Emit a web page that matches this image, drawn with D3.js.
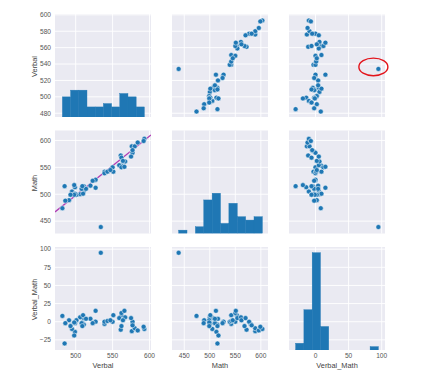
<!DOCTYPE html>
<html lang="en">
<head>
<meta charset="UTF-8">
<title>SAT scores pair plot</title>
<style>
  body { margin: 0; background: #fff; }
  text { font-family: "Liberation Sans", Arial, sans-serif; }
</style>
</head>
<body>
<div id="chart"></div>
<script src="https://d3js.org/d3.v7.min.js"></script>
<script>
// SAT scores by state
const states = ["CT","NJ","MA","NY","NH","RI","PA","VT","ME","VA","DE","MD","NC","GA","IN","SC","DC","OR","FL","WA","TX","HI","AK","CA","AZ","NV","CO","OH","MT","WV","ID","TN","NM","IL","KY","WY","MI","MN","KS","AL","NE","OK","MO","LA","WI","AR","UT","IA","SD","ND","MS"];
const verbal = [509,499,511,495,520,501,500,511,506,510,501,508,493,491,499,486,482,526,498,527,493,485,514,498,523,509,539,534,539,527,543,562,551,576,550,547,561,580,577,559,562,567,577,564,584,562,575,593,577,592,566];
const math = [510,513,515,505,516,499,499,506,500,501,499,510,499,489,501,488,474,526,499,527,499,515,510,517,525,515,542,439,539,512,542,553,542,589,550,545,572,589,580,554,568,561,577,562,596,550,570,603,582,599,551];
const verbalMath = [-1,-14,-4,-10,4,2,1,5,6,9,2,-2,-6,2,-2,-2,8,0,-1,0,-6,-30,4,-19,-2,-6,-3,95,0,15,1,9,9,-13,0,2,-11,-9,-3,5,-6,6,0,2,-12,12,5,-10,-5,-7,15];

const varNames = ["Verbal", "Math", "Verbal_Math"];
const xTickValues = [[500, 550, 600], [450, 500, 550, 600], [0, 50, 100]];
const yTickValues = [[480, 500, 520, 540, 560, 580, 600], [450, 500, 550, 600], [-25, 0, 25, 50, 75, 100]];
const fitSlope = 1.1, fitIntercept = -52;   // line drawn over Verbal vs Math
const outlierState = "OH";

const columns = [verbal, math, verbalMath];

const width = 424, height = 372;
const colX = [55, 172, 289], colW = 96;
const rowY = [14, 130.5, 247], rowH = 103;

const xDomains = [[472, 602], [426, 614], [-40, 105]];
const yDomains = [[475.4, 601], [427, 618.5], [-39, 103]];

const xScales = xDomains.map((d, i) => d3.scaleLinear().domain(d).range([colX[i], colX[i] + colW]));
const yScales = yDomains.map((d, i) => d3.scaleLinear().domain(d).range([rowY[i] + rowH, rowY[i]]));

const blue = "#1f77b4";

const svg = d3.select("#chart").append("svg")
  .attr("width", width)
  .attr("height", height);

const defs = svg.append("defs");

for (let r = 0; r < 3; r++) {
  for (let c = 0; c < 3; c++) {
    const x = xScales[c], y = yScales[r];
    const g = svg.append("g");
    const clipId = `clip-${r}-${c}`;
    defs.append("clipPath").attr("id", clipId)
      .append("rect")
      .attr("x", colX[c]).attr("y", rowY[r])
      .attr("width", colW).attr("height", rowH);

    // panel background + grid
    g.append("rect")
      .attr("x", colX[c]).attr("y", rowY[r])
      .attr("width", colW).attr("height", rowH)
      .attr("fill", "#eaeaf2");
    g.selectAll("line.gx").data(xTickValues[c]).enter().append("line")
      .attr("x1", d => x(d)).attr("x2", d => x(d))
      .attr("y1", rowY[r]).attr("y2", rowY[r] + rowH)
      .attr("stroke", "#fff").attr("stroke-width", 0.9);
    g.selectAll("line.gy").data(yTickValues[r]).enter().append("line")
      .attr("x1", colX[c]).attr("x2", colX[c] + colW)
      .attr("y1", d => y(d)).attr("y2", d => y(d))
      .attr("stroke", "#fff").attr("stroke-width", 0.9);

    const inner = g.append("g").attr("clip-path", `url(#${clipId})`);

    if (r === c) {
      // histogram on the diagonal
      const vals = columns[c];
      const [mn, mx] = d3.extent(vals);
      const bw = (mx - mn) / 10;
      const bins = d3.bin()
        .domain([mn, mx])
        .thresholds(d3.range(1, 10).map(i => mn + i * bw))(vals);
      const hy = d3.scaleLinear().domain([0, 30.7]).range([rowY[r] + rowH, rowY[r]]);
      inner.selectAll("rect.bar").data(bins).enter().append("rect")
        .attr("x", d => x(d.x0))
        .attr("width", d => Math.max(0, x(d.x1) - x(d.x0)))
        .attr("y", d => hy(d.length))
        .attr("height", d => hy(0) - hy(d.length))
        .attr("fill", blue)
        .attr("stroke", blue)
        .attr("stroke-width", 0.4);
    } else {
      const pts = states.map((s, i) => ({ s, xv: columns[c][i], yv: columns[r][i] }));
      if (r === 1 && c === 0) {
        const xd = xDomains[0];
        inner.append("line")
          .attr("x1", x(xd[0])).attr("y1", y(fitSlope * xd[0] + fitIntercept))
          .attr("x2", x(xd[1])).attr("y2", y(fitSlope * xd[1] + fitIntercept))
          .attr("stroke", "#b03cb4").attr("stroke-width", 1.3);
      }
      inner.selectAll("circle").data(pts).enter().append("circle")
        .attr("cx", d => x(d.xv))
        .attr("cy", d => y(d.yv))
        .attr("r", 2.5)
        .attr("fill", blue)
        .attr("stroke", "#fff")
        .attr("stroke-width", 0.5);
    }

    // tick labels
    if (c === 0) {
      g.selectAll("text.yt").data(yTickValues[r]).enter().append("text")
        .attr("x", 51).attr("y", d => y(d))
        .attr("dy", "0.35em")
        .attr("text-anchor", "end")
        .attr("font-size", 6.6)
        .attr("fill", "#555")
        .text(d => d3.format("d")(d).replace("-", "\u2212"));
      g.append("text")
        .attr("transform", `translate(37,${rowY[r] + rowH / 2 + 1}) rotate(-90)`)
        .attr("text-anchor", "middle")
        .attr("font-size", 7.4)
        .attr("fill", "#444")
        .text(varNames[r]);
    }
    if (r === 2) {
      g.selectAll("text.xt").data(xTickValues[c]).enter().append("text")
        .attr("x", d => x(d)).attr("y", 357.5)
        .attr("text-anchor", "middle")
        .attr("font-size", 6.6)
        .attr("fill", "#555")
        .text(d => d3.format("d")(d));
      g.append("text")
        .attr("x", colX[c] + colW / 2).attr("y", 367.5)
        .attr("text-anchor", "middle")
        .attr("font-size", 7.4)
        .attr("fill", "#444")
        .text(varNames[c]);
    }
  }
}

// red ring round the outlier in the Verbal vs Verbal_Math panel
const oi = states.indexOf(outlierState);
svg.append("ellipse")
  .attr("cx", xScales[2](verbalMath[oi]) - 5)
  .attr("cy", yScales[0](verbal[oi]) - 2)
  .attr("rx", 14.5).attr("ry", 8.8)
  .attr("fill", "none")
  .attr("stroke", "#e3141b")
  .attr("stroke-width", 1.4);
</script>
</body>
</html>
